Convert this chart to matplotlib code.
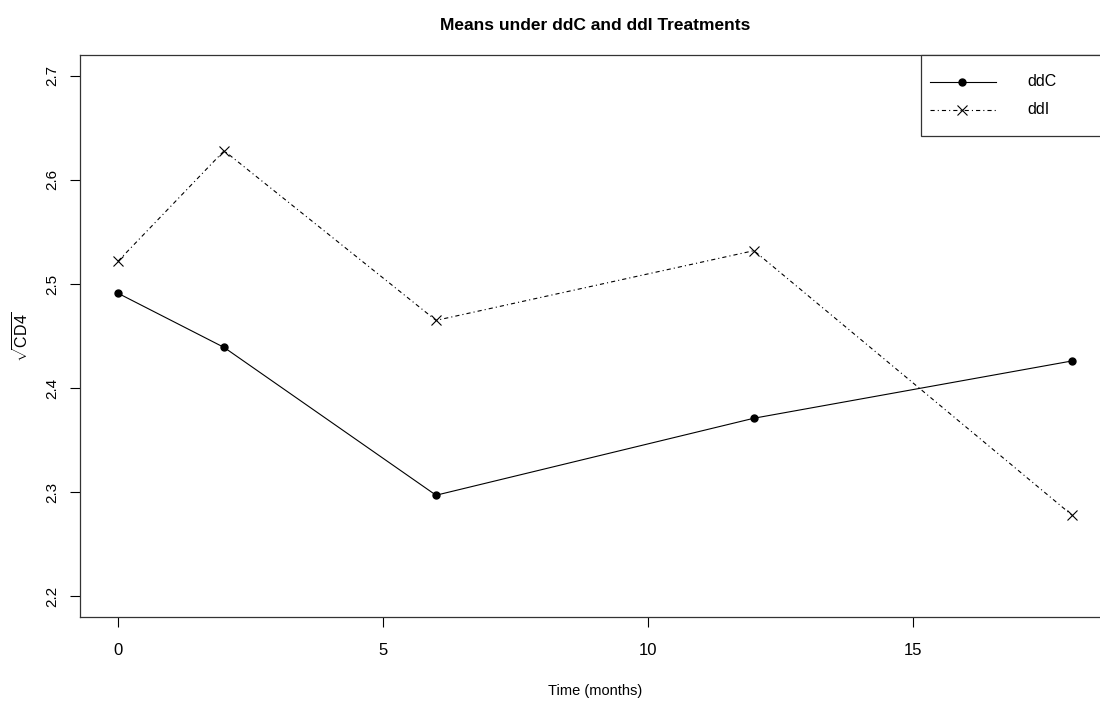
import matplotlib
matplotlib.use('Agg')
import matplotlib.pyplot as plt
from matplotlib.lines import Line2D
from matplotlib.patches import Rectangle

# Data
months = [0, 2, 6, 12, 18]
ddc_means = [2.491, 2.439, 2.297, 2.371, 2.426]
ddi_means = [2.522, 2.628, 2.465, 2.532, 2.278]
x_ticks = [0, 5, 10, 15]
y_ticks = [2.2, 2.3, 2.4, 2.5, 2.6, 2.7]
series_names = ['ddC', 'ddI']

plt.rcParams['font.family'] = ['Liberation Sans', 'DejaVu Sans']
plt.rcParams['mathtext.fontset'] = 'custom'
plt.rcParams['mathtext.rm'] = 'Liberation Sans'
plt.rcParams['lines.scale_dashes'] = False

W, H = 1100, 709
fig = plt.figure(figsize=(W / 100, H / 100), dpi=100)
ax = fig.add_axes([80 / W, 1 - 617 / H, 1030 / W, 562 / H])

ddc_style = dict(color='black', lw=0.8, marker='o', ms=5)
ddi_style = dict(color='black', lw=0.8, marker='x', ms=7, mew=0.8,
                 dashes=(3, 2.2, 0.8, 2.2))

ax.plot(months, ddc_means, **ddc_style)
ax.plot(months, ddi_means, **ddi_style)

ax.set_xlim(-0.72, 18.72)
ax.set_ylim(2.18, 2.72)
ax.set_xticks(x_ticks)
ax.set_yticks(y_ticks)
ax.set_yticklabels([f'{v:.1f}' for v in y_ticks], rotation=90, va='center')
ax.tick_params(direction='out', length=7, width=0.8, colors='black')
ax.tick_params(axis='x', labelsize=12, pad=12)
ax.tick_params(axis='y', labelsize=11, pad=8)
for s in ax.spines.values():
    s.set_linewidth(0.9)
    s.set_color('#333333')

ax.set_title('Means under ddC and ddI Treatments', fontsize=12.5,
             fontweight='bold', pad=18, x=(595 - 80) / 1030)
ax.set_xlabel('Time (months)', fontsize=10.5)
ax.set_ylabel(r'$\sqrt{\mathrm{CD4}}$', fontsize=11.5)
ax.xaxis.set_label_coords((595 - 80) / 1030, -0.12)
ax.yaxis.set_label_coords(-(80 - 32) / 1030, (617 - 337) / 562)

# R-style legend box in the top-right corner
def fx(px):
    return px / W

def fy(py):
    return 1 - py / H

fig.patches.append(Rectangle((fx(921), fy(136)), fx(1110) - fx(921),
                             fy(55) - fy(136), transform=fig.transFigure,
                             facecolor='white', edgecolor='#333333', lw=0.9,
                             zorder=3))
for name, style, row_y in zip(series_names, [ddc_style, ddi_style], [82, 110]):
    line_style = {k: v for k, v in style.items() if k not in ('marker', 'ms', 'mew')}
    fig.lines.append(Line2D([fx(930), fx(996)], [fy(row_y)] * 2,
                            transform=fig.transFigure, zorder=4, **line_style))
    fig.lines.append(Line2D([fx(962)], [fy(row_y)], transform=fig.transFigure,
                            color='black', marker=style['marker'], ms=style['ms'],
                            mew=style.get('mew', 1), ls='none', zorder=5))
    fig.text(fx(1027), fy(row_y), name, fontsize=11.5, va='center', ha='left',
             zorder=5)

fig.savefig('out.png', dpi=100)
